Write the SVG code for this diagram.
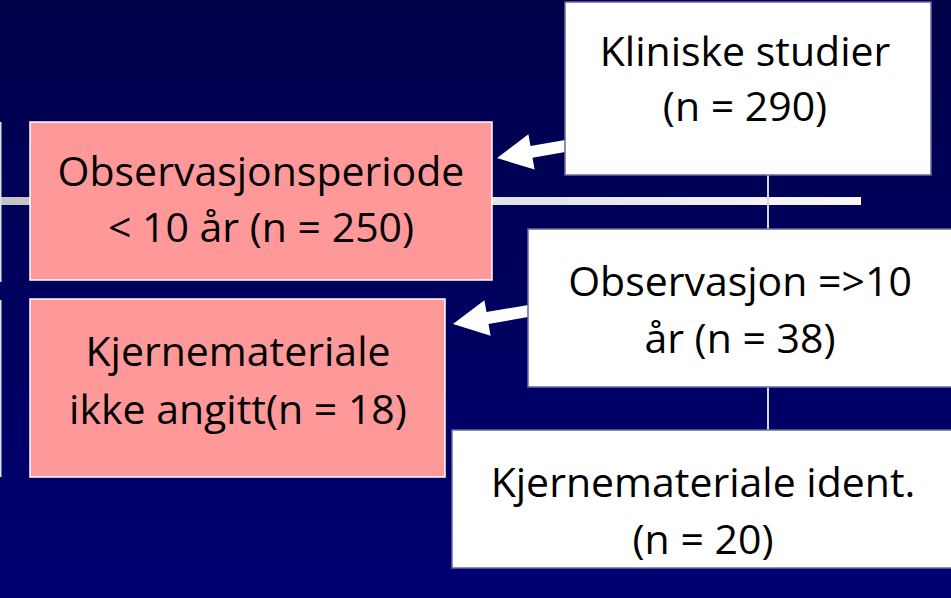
<svg xmlns="http://www.w3.org/2000/svg" width="951" height="598" viewBox="0 0 951 598">
<defs>
<linearGradient id="bg" x1="0" y1="0" x2="0" y2="1">
<stop offset="0" stop-color="#00004A"/>
<stop offset="1" stop-color="#000072"/>
</linearGradient>
<linearGradient id="hl" x1="0" y1="0" x2="1" y2="0">
<stop offset="0" stop-color="#C4C4C4"/>
<stop offset="1" stop-color="#F8F8F8"/>
</linearGradient>
<style>
.wb{fill:#FFFFFF;stroke:#6A6AA0;stroke-width:1.5}
.pb{fill:#FF9999;stroke:#FFFFFF;stroke-width:1.5}
.t{font-family:"Open Sans","Noto Sans",sans-serif;font-size:41px;fill:#000000;text-anchor:middle}
.ar{fill:#FFFFFF}
.vl{stroke:#D8D8E4;stroke-width:2}
.el{stroke:#E0E0E8;stroke-width:1.5}
</style>
</defs>
<rect x="0" y="0" width="951" height="598" fill="url(#bg)"/>
<g id="connectors">
<rect x="0" y="197" width="861" height="8" fill="url(#hl)"/>
<line class="vl" x1="768" y1="170" x2="768" y2="435"/>
<line class="el" x1="0.75" y1="122" x2="0.75" y2="282"/>
<line class="el" x1="0.75" y1="300" x2="0.75" y2="477"/>
<polygon class="ar" points="568,139.5 530.5,146 528.4,134.2 497,158 534.6,169.6 532.5,157.8 568,151.5"/>
<polygon class="ar" points="531,304.5 486.5,312.1 484.4,300.3 453,324 490.6,335.7 488.5,323.9 531,316.5"/>
</g>
<g id="node-kliniske">
<rect class="wb" x="565" y="2" width="366" height="173"/>
<text class="t" x="745" y="66">Kliniske studier</text>
<text class="t" x="745" y="121">(n = 290)</text>
</g>
<g id="node-obs-lt10">
<rect class="pb" x="30" y="122" width="462" height="158"/>
<text class="t" x="261" y="186">Observasjonsperiode</text>
<text class="t" x="261" y="242">&lt; 10 år (n = 250)</text>
</g>
<g id="node-obs-ge10">
<rect class="wb" x="528" y="229" width="430" height="158"/>
<text class="t" x="740" y="296">Observasjon =&gt;10</text>
<text class="t" x="740" y="353">år (n = 38)</text>
</g>
<g id="node-kjerne-ikke">
<rect class="pb" x="30" y="299" width="415" height="178"/>
<text class="t" x="238" y="366">Kjernemateriale</text>
<text class="t" x="238" y="424">ikke angitt(n = 18)</text>
</g>
<g id="node-kjerne-ident">
<rect class="wb" x="452" y="430" width="506" height="138"/>
<text class="t" x="703" y="497">Kjernemateriale ident.</text>
<text class="t" x="703" y="554">(n = 20)</text>
</g>
</svg>
